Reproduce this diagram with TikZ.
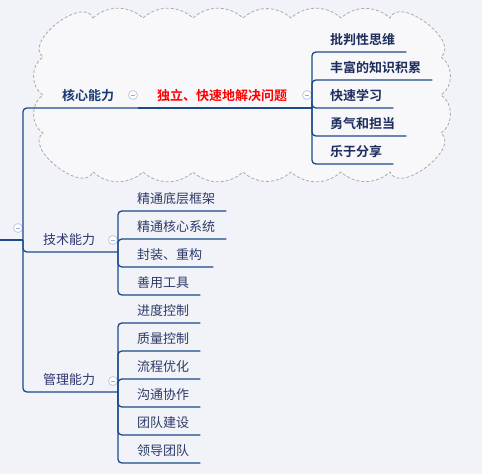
\documentclass[tikz,border=0pt]{standalone}
\usepackage{fontspec}
\usepackage{tikz}
\newfontfamily\cjk{Noto Sans CJK SC}[BoldFont={Noto Sans CJK SC Bold}]
\definecolor{canvas}{HTML}{F1F3F8}
\definecolor{cloudfill}{HTML}{F8F8FB}
\definecolor{cloudline}{HTML}{ABABAB}
\definecolor{branch}{HTML}{1C4A8A}
\definecolor{corehead}{HTML}{173B72}
\definecolor{coreleaf}{HTML}{1D2D5C}
\definecolor{plainhead}{HTML}{2E3470}
\definecolor{plainleaf}{HTML}{2E3A68}
\definecolor{foldring}{HTML}{BCCBEA}
\definecolor{foldbar}{HTML}{9EB0D8}

\tikzset{
  topic/.style={anchor=south west, inner xsep=0pt, inner ysep=0pt,
    text height=11pt, text depth=7pt},
  headcore/.style={text=corehead, font=\cjk\bfseries\fontsize{13}{15}\selectfont},
  solvetext/.style={text=red, font=\cjk\bfseries\fontsize{13}{15}\selectfont},
  leafcore/.style={text=coreleaf, font=\cjk\bfseries\fontsize{13}{15}\selectfont},
  headplain/.style={text=plainhead, font=\cjk\fontsize{13}{15}\selectfont},
  leafplain/.style={text=plainleaf, font=\cjk\fontsize{13}{15}\selectfont},
  link/.style={branch, line width=1.3pt, rounded corners=4pt},
  fold/.style={circle, draw=foldring, fill=white, line width=0.8pt,
    minimum size=9pt, inner sep=0pt,
    path picture={\draw[foldbar, line width=0.9pt]
      ([xshift=-2.4pt]path picture bounding box.center) --
      ([xshift=2.4pt]path picture bounding box.center);}}
}

\begin{document}
\begin{tikzpicture}[x=1pt,y=-1pt]
    \path[use as bounding box, fill=canvas] (0,0) rectangle (482,474);

    % Cloud behind the core branch, scalloped on every side.
    \draw[cloudline, fill=cloudfill, line width=0.8pt, dash pattern=on 3pt off 2pt]
      (93,18)
      \foreach \xx in {143,193,243,291,341,390} { to[bend left=42] (\xx,18) }
      to[bend left=105] (441,57)
      \foreach \yy in {95,133} { to[bend left=58] (441,\yy) }
      to[bend left=105] (390,172)
      \foreach \xx in {341,291,243,193,143,93} { to[bend left=42] (\xx,172) }
      to[bend left=105] (43,133)
      \foreach \yy in {95,57} { to[bend left=58] (43,\yy) }
      to[bend left=105] (93,18) -- cycle;

    % Collapse markers beside each parent topic.
    \coordinate (rootend) at (0,240);
    \node[fold] (f0) at (18,228) {};
    \node[fold] (f1) at (133,95) {};
    \node[fold] (f2) at (307,95) {};
    \node[fold] (f3) at (113,240) {};
    \node[fold] (f4) at (113,381) {};

    % First level topics.
    \node[topic, headcore] (core) at (62,108) {核心能力};
    \node[topic, solvetext] (solve) at (157,108) {独立、快速地解决问题};
    \node[topic, headplain] (tech) at (43,252) {技术能力};
    \node[topic, headplain] (mgmt) at (43,392) {管理能力};

    \draw[link] (rootend) -- (f0.east |- rootend);
    \foreach \head/\mark in {core/f1,tech/f3,mgmt/f4} {
      \draw[link] (f0.east |- rootend) |- (\mark.east |- \head.south);
    }
    \draw[link] (f1.east |- core.south) -- (f2.east |- solve.south);

    % Core abilities.
    \foreach \name/\yy/\label in {c1/52/批判性思维,c2/80/丰富的知识积累,
      c3/108/快速学习,c4/136/勇气和担当,c5/164/乐于分享} {
      \node[topic, leafcore] (\name) at (330,\yy) {\label};
      \draw[link] (f2.east |- solve.south) |- ([xshift=11pt]\name.south east);
    }

    % Technical skills.
    \foreach \name/\yy/\label in {t1/211/精通底层框架,t2/239/精通核心系统,
      t3/267/封装、重构,t4/295/善用工具} {
      \node[topic, leafplain] (\name) at (137,\yy) {\label};
      \draw[link] (f3.east |- tech.south) |- ([xshift=11pt]\name.south east);
    }

    % Management skills.
    \foreach \name/\yy/\label in {m1/323/进度控制,m2/351/质量控制,
      m3/379/流程优化,m4/407/沟通协作,m5/435/团队建设,m6/463/领导团队} {
      \node[topic, leafplain] (\name) at (137,\yy) {\label};
      \draw[link] (f4.east |- mgmt.south) |- ([xshift=11pt]\name.south east);
    }
  \end{tikzpicture}
\end{document}
